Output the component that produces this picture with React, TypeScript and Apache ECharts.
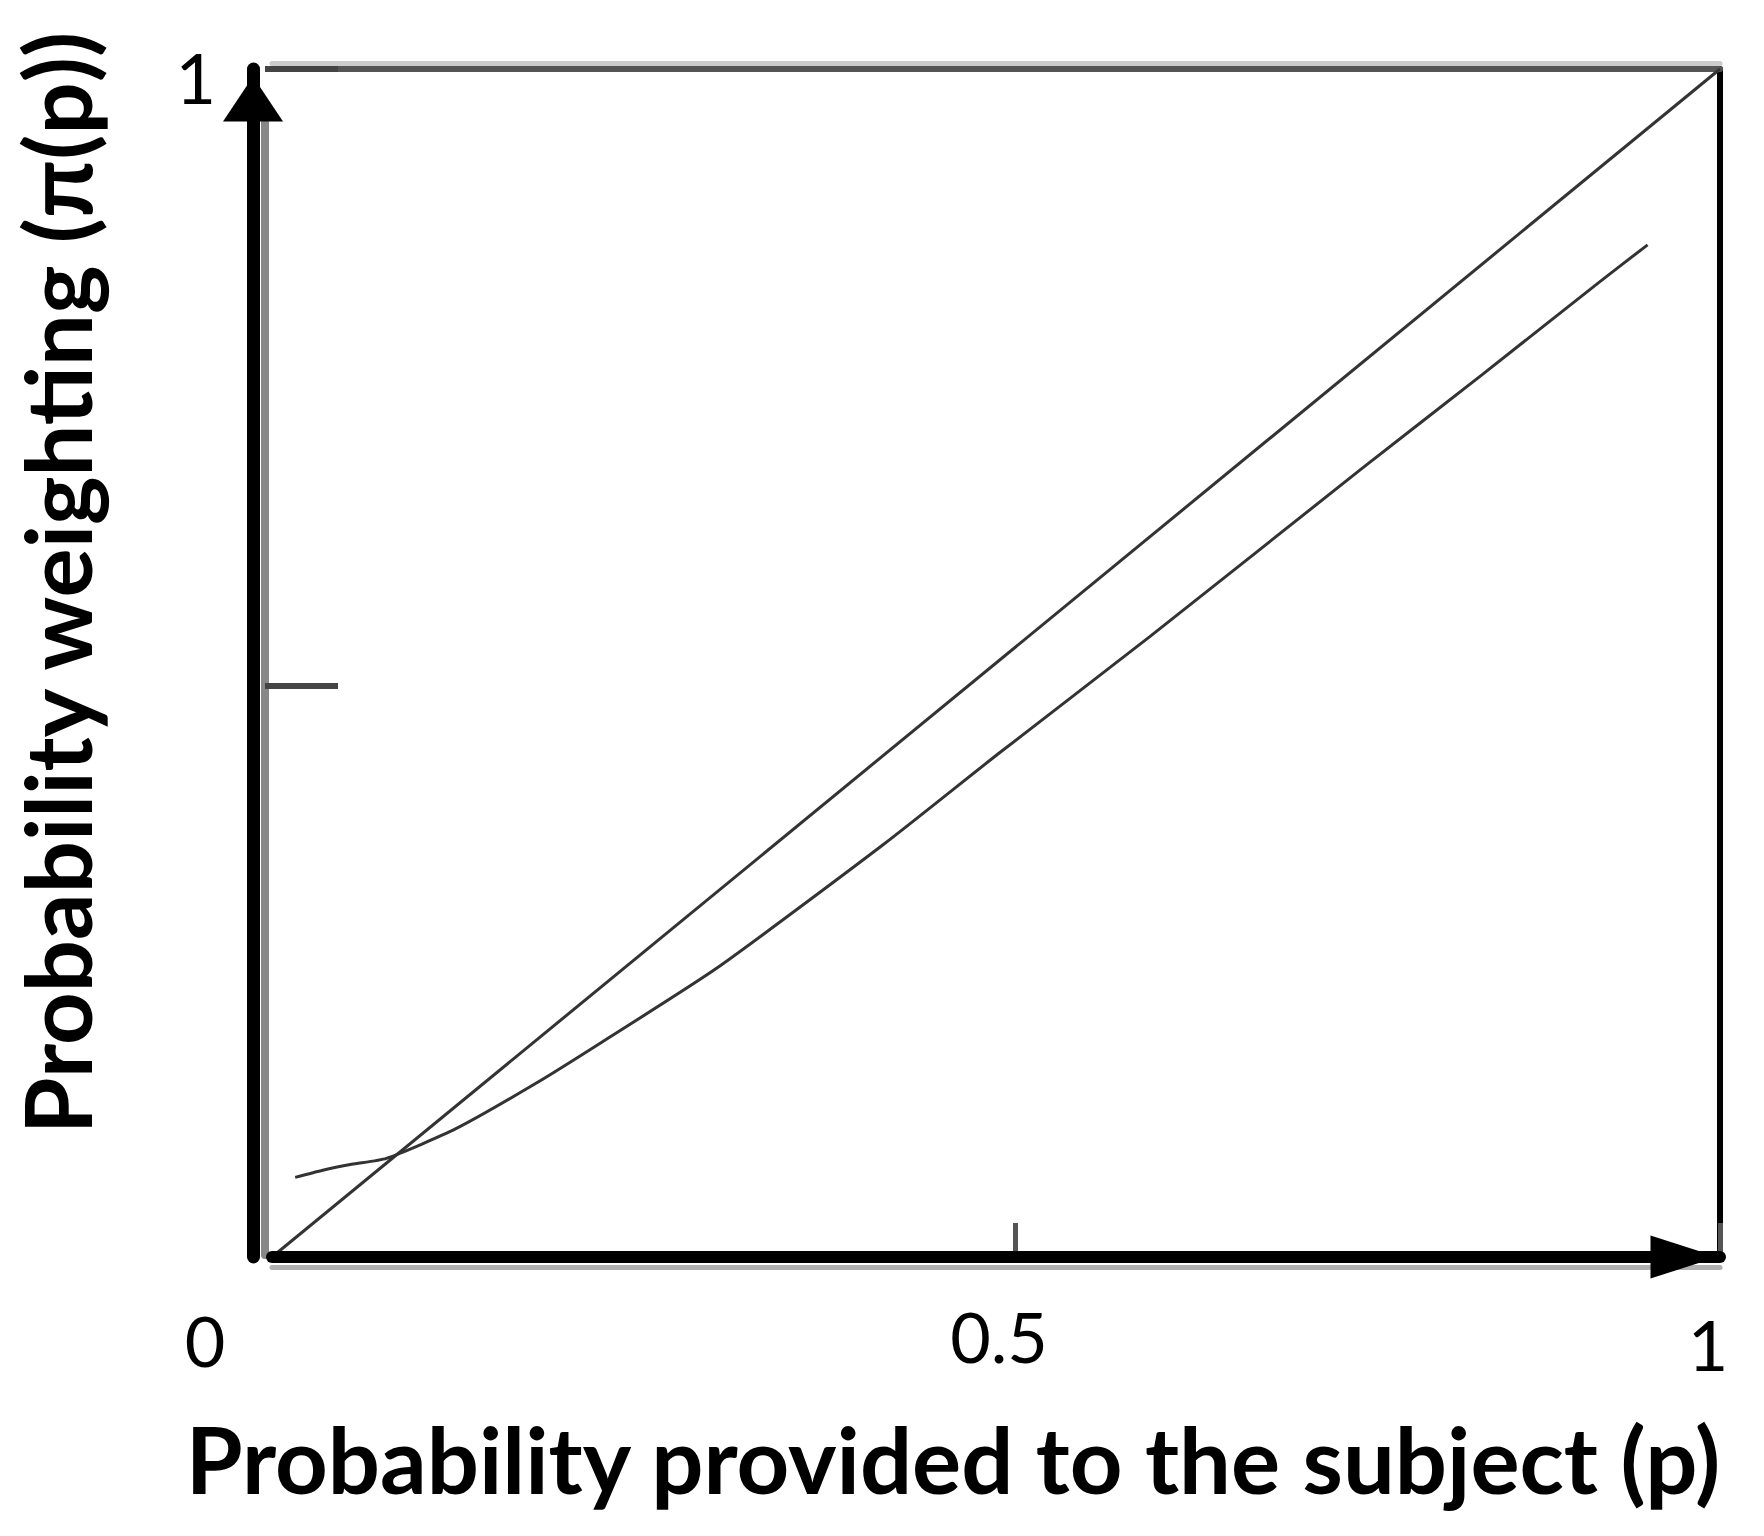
import React, { useEffect, useRef } from "react";
import * as echarts from "echarts";

// probability provided (p) and its weighting pi(p)
const pValues = [0.016, 0.035, 0.055, 0.079, 0.127, 0.182, 0.228, 0.307, 0.422, 0.502, 0.606, 0.753, 0.836, 0.916, 0.95];
const weights = [0.067, 0.073, 0.078, 0.083, 0.108, 0.146, 0.181, 0.243, 0.347, 0.424, 0.522, 0.664, 0.743, 0.82, 0.852];
const diagonalP = [0, 1];
const diagonalW = [0, 1];

const xTicks = [0, 0.5, 1];
const xTickLabels = ["0", "0.5", "1"];
const yTicks = [0, 0.5, 1];
const yTickLabels = ["", "", "1"];

const xTitle = "Probability provided to the subject (p)";
const yTitle = "Probability weighting (\u03c0(p))";

const FONT = "Lato";
const LABEL_SIZE = 70;

const App: React.FC = () => {
  const chartRef = useRef<HTMLDivElement>(null);

  useEffect(() => {
    if (!chartRef.current) return;
    const chart = echarts.init(chartRef.current, undefined, { renderer: "svg" });

    const lbl = { fontFamily: FONT, fontSize: LABEL_SIZE, color: "#000" };
    const labelRich = {
      z: { ...lbl, padding: [4, 134, 0, 0] },
      m: { ...lbl, padding: [0, 0, 0, 6] },
      o: { ...lbl, padding: [8, 24, 0, 0] },
    };
    const richKeys = ["z", "m", "o"];

    // a plain line (or tick) axis with nothing else on it
    const frame = (extra: object) => ({
      type: "value" as const,
      min: 0,
      max: 1,
      interval: 0.5,
      axisTick: { show: false },
      axisLabel: { show: false },
      splitLine: { show: false },
      ...extra,
    });
    const hidden = (gridIndex: number) => ({ type: "value" as const, gridIndex, min: 0, max: 1, show: false });

    // stacked grids so that every side can carry more than one line
    const box = { left: 272, right: 44, top: 69, bottom: 279 };
    const innerLeft = { left: 272, right: 44, top: 117, bottom: 281 };
    const yTickBox = { left: 272, right: 44, top: 69, bottom: 850 };
    const xTickBox = { left: 1015, right: 44, top: 69, bottom: 279 };

    const option = {
      animation: false,
      backgroundColor: "#fff",
      grid: [box, innerLeft, box, box, yTickBox, xTickBox],
      xAxis: [
        {
          type: "value" as const,
          gridIndex: 0,
          position: "bottom" as const,
          min: 0,
          max: 1,
          interval: 0.5,
          z: 5,
          axisLine: {
            onZero: false,
            lineStyle: { color: "#000", width: 12 },
            symbol: ["none", "triangle"],
            symbolSize: [43, 67],
            symbolOffset: [0, -36],
          },
          axisTick: { show: false },
          axisLabel: {
            margin: 44,
            ...lbl,
            formatter: (v: number) => {
              const i = xTicks.indexOf(v);
              return i < 0 ? "" : `{${richKeys[i]}|${xTickLabels[i]}}`;
            },
            rich: labelRich,
          },
          splitLine: { show: false },
        },
        frame({ gridIndex: 1, position: "bottom", offset: 12, axisLine: { onZero: false, lineStyle: { color: "#b0b0b0", width: 5 } } }),
        frame({ gridIndex: 2, position: "top", axisLine: { onZero: false, lineStyle: { color: "#555", width: 6 } } }),
        frame({ gridIndex: 3, position: "top", offset: 6, axisLine: { onZero: false, lineStyle: { color: "#ccc", width: 5 } } }),
        hidden(4),
        frame({
          gridIndex: 5,
          position: "bottom",
          min: 0.5,
          max: 1,
          axisLine: { show: false, onZero: false },
          axisTick: { show: true, inside: true, length: 34, lineStyle: { color: "#555", width: 5 } },
        }),
      ],
      yAxis: [
        {
          type: "value" as const,
          gridIndex: 0,
          position: "left" as const,
          offset: 19,
          min: 0,
          max: 1,
          interval: 0.5,
          z: 5,
          axisLine: {
            onZero: false,
            lineStyle: { color: "#000", width: 13 },
            symbol: ["none", "triangle"],
            symbolSize: [60, 45],
            symbolOffset: [0, -30],
          },
          axisTick: { show: false },
          axisLabel: {
            margin: 37,
            ...lbl,
            formatter: (v: number) => {
              const i = yTicks.indexOf(v);
              return i < 0 || !yTickLabels[i] ? "" : `{o|${yTickLabels[i]}}`;
            },
            rich: { o: { ...lbl, padding: [16, 0, 0, 0] } },
          },
          splitLine: { show: false },
        },
        frame({ gridIndex: 1, position: "left", offset: 7, axisLine: { onZero: false, lineStyle: { color: "#888", width: 8 } } }),
        frame({ gridIndex: 2, position: "right", axisLine: { onZero: false, lineStyle: { color: "#000", width: 6 } } }),
        hidden(3),
        frame({
          gridIndex: 4,
          position: "left",
          offset: 7,
          min: 0.5,
          max: 1,
          axisLine: { show: false, onZero: false },
          axisTick: { show: true, inside: true, length: 73, lineStyle: { color: "#444", width: 6 } },
        }),
        hidden(5),
      ],
      graphic: [
        {
          type: "text",
          x: 953,
          y: 1458,
          style: {
            text: xTitle,
            font: `bold 92px ${FONT}`,
            fill: "#000",
            textAlign: "center",
            textVerticalAlign: "middle",
          },
        },
        {
          type: "text",
          x: 56,
          y: 583,
          rotation: Math.PI / 2,
          style: {
            text: yTitle,
            font: `bold 92px ${FONT}`,
            fill: "#000",
            textAlign: "center",
            textVerticalAlign: "middle",
          },
        },
      ],
      series: [
        {
          name: "Diagonal",
          type: "line",
          xAxisIndex: 0,
          yAxisIndex: 0,
          showSymbol: false,
          data: diagonalP.map((p, i) => [p, diagonalW[i]]),
          lineStyle: { color: "#333", width: 3 },
        },
        {
          name: "Weighting",
          type: "line",
          xAxisIndex: 0,
          yAxisIndex: 0,
          showSymbol: false,
          smooth: 0.2,
          data: pValues.map((p, i) => [p, weights[i]]),
          lineStyle: { color: "#333", width: 3 },
        },
      ],
    };

    chart.setOption(option);

    const resizeChart = () => chart.resize();
    window.addEventListener("resize", resizeChart);

    return () => {
      window.removeEventListener("resize", resizeChart);
      chart.dispose();
    };
  }, []);

  return (
    <div
      ref={chartRef}
      style={{ position: "absolute", left: 0, top: 0, width: "1764px", height: "1536px", background: "#fff" }}
    ></div>
  );
};

export default App;
